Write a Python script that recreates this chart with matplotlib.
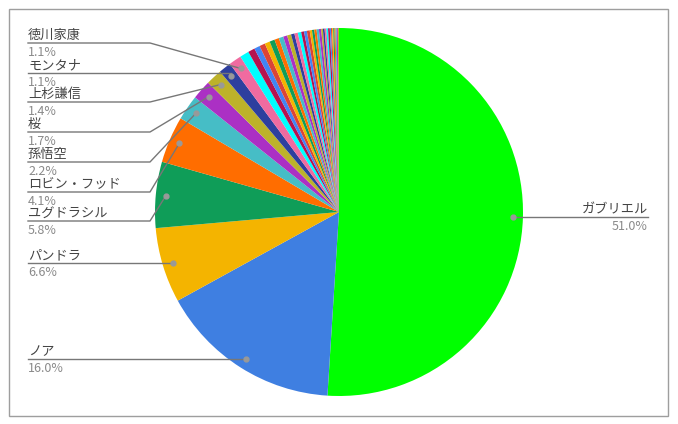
import numpy as np
import matplotlib
matplotlib.use("Agg")
import matplotlib.pyplot as plt
from matplotlib.patches import Rectangle

plt.rcParams["font.family"] = ["Noto Sans CJK JP", "DejaVu Sans"]

# ── Data ─────────────────────────────────────────────────────────────
names = ["ガブリエル", "ノア", "パンドラ", "ユグドラシル", "ロビン・フッド",
         "孫悟空", "桜", "上杉謙信", "モンタナ", "徳川家康"]
shares = [51.0, 16.0, 6.6, 5.8, 4.1, 2.2, 1.7, 1.4, 1.1, 1.1]

# unlabeled tail of tiny slices (estimated)
tail = [0.8, 0.6, 0.5, 0.5, 0.45, 0.45, 0.4, 0.4, 0.35, 0.35,
        0.3, 0.3, 0.3, 0.25, 0.25, 0.25, 0.2, 0.2, 0.2, 0.2, 0.2,
        0.15, 0.15, 0.15, 0.15, 0.15, 0.1, 0.1, 0.1, 0.1,
        0.1, 0.1, 0.1, 0.1]

# ── Style ────────────────────────────────────────────────────────────
W, H = 678, 424
_PALETTE = ["#4285f4", "#db4437", "#f4b400", "#0f9d58", "#ff6d00", "#46bdc6",
            "#ab30c4", "#bdb22a", "#2e3f9e", "#f06ba0", "#00ffff", "#b5134f"]
_FIRST = ["#00ff00", "#3f7fe1"]
_NAME = "#444444"
_PCT = "#8a8a8a"
_LINE = "#777777"
_DOT = "#999999"

CX, CY, R = 339, 212, 184          # pie centre / radius in pixels (y from top)
DOT_R = 0.945 * R

# label line y (pixels from top) for each named slice
label_y = {"ガブリエル": 217, "ノア": 359, "パンドラ": 263, "ユグドラシル": 221,
           "ロビン・フッド": 192, "孫悟空": 162, "桜": 132, "上杉謙信": 102,
           "モンタナ": 73, "徳川家康": 43}

values = shares + tail
colors = [_FIRST[i] if i < 2 else _PALETTE[i % len(_PALETTE)]
          for i in range(len(values))]


def Y(y):
    return H - y


fig = plt.figure(figsize=(W / 100, H / 100), dpi=100)
ax = fig.add_axes([0, 0, 1, 1])

ax.add_patch(Rectangle((8.5, Y(415.5)), 659.5, 407, fill=False,
                       edgecolor="#9e9e9e", linewidth=1))

ax.pie(values, colors=colors, startangle=90, counterclock=False,
       center=(CX, Y(CY)), radius=R, frame=True,
       wedgeprops=dict(linewidth=0))
ax.set_xlim(0, W)
ax.set_ylim(0, H)
ax.set_aspect("equal")
ax.axis("off")

# ── Leader lines and labels ──────────────────────────────────────────
total = sum(values)
cum = 0.0
for name, v in zip(names, shares):
    mid = (cum + v / 2) / total * 2 * np.pi
    cum += v
    dx = CX + DOT_R * np.sin(mid)
    dy = CY - DOT_R * np.cos(mid)
    ly = label_y[name]
    pct = f"{v:.1f}%"
    ax.plot([dx], [Y(dy)], "o", color=_DOT, markersize=3.5, zorder=5)
    if dx > CX:
        ax.plot([dx, 648], [Y(ly), Y(ly)], color=_LINE, linewidth=1)
        ax.text(648, Y(ly - 4), name, color=_NAME, fontsize=9.5,
                ha="right", va="baseline")
        ax.text(648, Y(ly + 13), pct, color=_PCT, fontsize=9,
                ha="right", va="baseline")
    else:
        if abs(dy - ly) < 3:
            xs, ys = [28, dx], [ly, ly]
        else:
            xs, ys = [28, 150, dx], [ly, ly, dy]
        ax.plot(xs, [Y(y) for y in ys], color=_LINE, linewidth=1)
        ax.text(28, Y(ly - 4), name, color=_NAME, fontsize=9.5,
                ha="left", va="baseline")
        ax.text(28, Y(ly + 13), pct, color=_PCT, fontsize=9,
                ha="left", va="baseline")

fig.savefig("out.png", dpi=100, facecolor="white")
